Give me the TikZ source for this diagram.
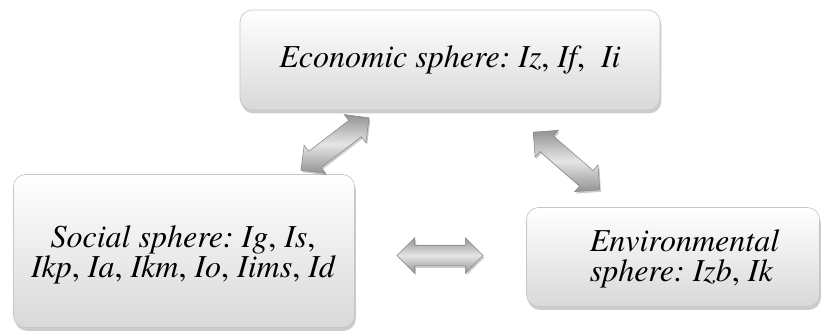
\documentclass[tikz,border=0pt]{standalone}
\usepackage{fontspec}
\setmainfont{texgyretermes}[Extension=.otf, UprightFont=*-regular, ItalicFont=*-italic, BoldFont=*-bold, BoldItalicFont=*-bolditalic]
\usetikzlibrary{shapes.arrows,shadows}
\frenchspacing
\begin{document}
\begin{tikzpicture}[x=0.75pt,y=-0.75pt,
  sphere/.style={rectangle, rounded corners=9pt, draw=gray!45, line width=0.5pt,
    top color=white, bottom color=gray!30, align=center, inner sep=0pt,
    drop shadow={shadow xshift=1pt, shadow yshift=-2.5pt, opacity=0.5, fill=gray!80}},
  label/.style={font=\rmfamily\itshape\fontsize{24}{22.5}\selectfont, inner sep=0pt},
  dblarrow/.style={double arrow, draw=gray!95, line width=0.4pt,
    top color=gray!85, bottom color=gray!85, middle color=gray!20,
    inner xsep=0pt, inner ysep=7.5pt, text height=0pt, text depth=0pt,
    double arrow head extend=5.6pt, double arrow head indent=0pt,
    drop shadow={shadow xshift=1pt, shadow yshift=-1.5pt, opacity=0.4, fill=gray}}
]
\useasboundingbox (0,0) rectangle (830,332);
\node[sphere, minimum width=420*0.75pt, minimum height=100*0.75pt] (eco) at (450,60) {};
\node[label, align=center] (ecotxt) at (eco.center) {Economic sphere: Iz\textup{,} If\textup{,}\ \ Ii};
\node[sphere, minimum width=341*0.75pt, minimum height=153*0.75pt] (soc) at (184,251) {};
\node[label, align=center] (soctxt) at (183,255)
  {Social sphere: Ig\textup{,} Is\textup{,}\\Ikp\textup{,} Ia\textup{,} Ikm\textup{,} Io\textup{,} Iims\textup{,} Id};
\node[sphere, minimum width=293*0.75pt, minimum height=99*0.75pt] (env) at (673,257) {};
\node[label, align=left] (envtxt) at (684.5,259) {Environmental\\sphere: Izb\textup{,} Ik};
\node[dblarrow, minimum height=86*0.75pt, rotate=37.5] (a1) at (335,144) {};
\node[dblarrow, minimum height=88*0.75pt, rotate=-41] (a2) at (566.5,161) {};
\node[dblarrow, minimum height=86*0.75pt] (a3) at (440,255.5) {};
\end{tikzpicture}
\end{document}
